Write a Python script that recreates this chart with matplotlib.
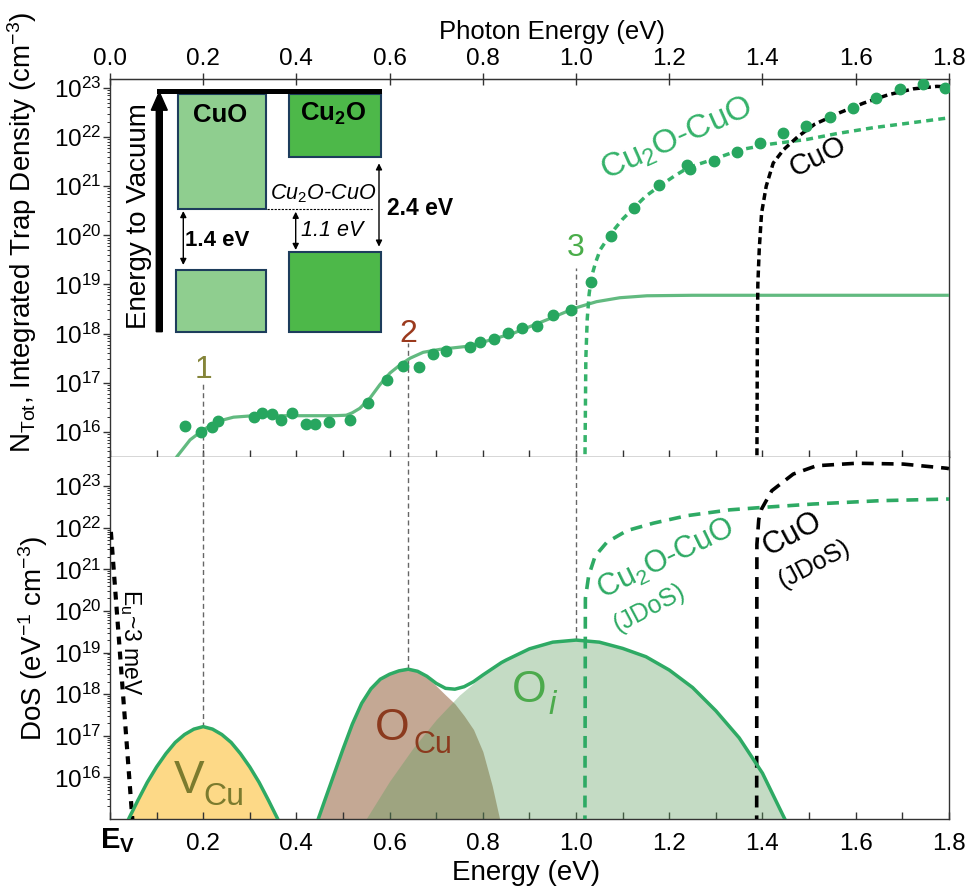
import numpy as np
import matplotlib
matplotlib.use("Agg")
import matplotlib.pyplot as plt
from matplotlib.patches import Rectangle, FancyArrow
from matplotlib.ticker import (LogLocator, NullFormatter, MultipleLocator,
                               FixedLocator, LogFormatterSciNotation)
import matplotlib.transforms as mtransforms

plt.rcParams['font.family'] = ['Liberation Sans', 'DejaVu Sans']
plt.rcParams['mathtext.fontset'] = 'custom'
plt.rcParams['mathtext.rm'] = 'Liberation Sans'
plt.rcParams['mathtext.it'] = 'Liberation Sans:italic'
plt.rcParams['mathtext.bf'] = 'Liberation Sans:bold'
plt.rcParams['mathtext.sf'] = 'Liberation Sans'

# ---------------- data (values are log10 of the quantity) ----------------
# top panel: measured integrated trap density
meas_E = [0.161, 0.195, 0.219, 0.232, 0.308, 0.327, 0.347, 0.367, 0.390, 0.420,
          0.440, 0.470, 0.514, 0.554, 0.594, 0.629, 0.664, 0.692, 0.721, 0.773,
          0.793, 0.824, 0.853, 0.883, 0.917, 0.951, 0.989, 1.032, 1.076, 1.124,
          1.179, 1.239, 1.245, 1.296, 1.345, 1.395, 1.443, 1.494, 1.544, 1.594,
          1.644, 1.695, 1.744, 1.792]
meas_logN = [16.12, 15.99, 16.11, 16.23, 16.31, 16.38, 16.37, 16.24, 16.39, 16.16,
             16.16, 16.20, 16.24, 16.58, 17.05, 17.34, 17.33, 17.58, 17.65, 17.72,
             17.83, 17.89, 18.01, 18.12, 18.16, 18.38, 18.48, 19.06, 19.98, 20.56,
             21.03, 21.44, 21.34, 21.52, 21.70, 21.88, 22.08, 22.23, 22.41, 22.59,
             22.80, 22.97, 23.07, 23.00]
# top panel: integrated defect-DoS fit
fit_E = [0.13, 0.143, 0.172, 0.200, 0.229, 0.265, 0.308, 0.40, 0.48, 0.507, 0.52,
         0.536, 0.558, 0.579, 0.601, 0.622, 0.644, 0.672, 0.708, 0.765, 0.794,
         0.866, 0.937, 0.998, 1.044, 1.094, 1.152, 1.25, 1.8]
fit_logN = [15.25, 15.49, 15.84, 16.04, 16.21, 16.30, 16.33, 16.33, 16.33, 16.34, 16.39,
            16.48, 16.69, 16.96, 17.20, 17.36, 17.50, 17.62, 17.68, 17.74, 17.81,
            18.01, 18.28, 18.52, 18.65, 18.73, 18.77, 18.78, 18.78]
# top panel: integrated JDoS, Cu2O-CuO heterojunction
int_het_E = [1.019, 1.021, 1.024, 1.028, 1.033, 1.042, 1.052, 1.076, 1.10, 1.124, 1.15,
             1.179, 1.21, 1.241, 1.296, 1.352, 1.42, 1.495, 1.56, 1.638, 1.72, 1.8]
int_het_logN = [15.3, 17.5, 18.3, 18.8, 19.15, 19.45, 19.71, 20.05, 20.33, 20.56, 20.8,
                21.0, 21.2, 21.38, 21.55, 21.74, 21.86, 21.95, 22.07, 22.19, 22.29, 22.39]
# top panel: integrated JDoS, CuO
int_cuo_E = [1.388, 1.389, 1.390, 1.393, 1.398, 1.408, 1.423, 1.445, 1.475, 1.512,
             1.567, 1.617, 1.670, 1.724, 1.774, 1.8]
int_cuo_logN = [15.3, 18.0, 19.0, 19.71, 20.45, 21.0, 21.47, 21.74, 22.0, 22.26,
                22.5, 22.69, 22.86, 22.98, 23.03, 23.02]

# bottom panel: defect densities of states
vcu_E = [0.03, 0.04, 0.06, 0.08, 0.10, 0.12, 0.14, 0.16, 0.18, 0.20,
         0.22, 0.24, 0.26, 0.28, 0.30, 0.32, 0.34, 0.36, 0.37]
vcu_logD = [14.71, 15.00, 15.45, 15.88, 16.25, 16.57, 16.84, 17.03, 17.16, 17.22,
            17.16, 17.03, 16.84, 16.57, 16.25, 15.88, 15.45, 15.00, 14.71]
ocu_E = [0.44, 0.46, 0.48, 0.50, 0.52, 0.54, 0.56, 0.58, 0.60, 0.62, 0.64,
         0.66, 0.68, 0.70, 0.72, 0.74, 0.76, 0.78, 0.80, 0.82, 0.84]
ocu_logD = [14.78, 15.42, 16.05, 16.68, 17.28, 17.78, 18.13, 18.36, 18.48, 18.56, 18.60,
            18.54, 18.41, 18.20, 17.98, 17.77, 17.48, 17.15, 16.62, 15.80, 14.80]
oi_E = [0.50, 0.52, 0.55, 0.60, 0.65, 0.70, 0.75, 0.80, 0.85, 0.90, 0.95, 1.00,
        1.05, 1.10, 1.15, 1.20, 1.25, 1.30, 1.35, 1.40, 1.45, 1.50]
oi_logD = [14.00, 14.42, 15.01, 15.91, 16.70, 17.39, 17.98, 18.45, 18.82, 19.09, 19.25, 19.30,
           19.25, 19.10, 18.90, 18.58, 18.16, 17.60, 16.95, 16.10, 14.95, 13.90]
# total (O_Cu + O_i) envelope
tot_E = [0.44, 0.46, 0.48, 0.50, 0.52, 0.54, 0.56, 0.58, 0.60, 0.62, 0.64, 0.66, 0.68,
         0.70, 0.72, 0.74, 0.76, 0.78, 0.80, 0.82, 0.84, 0.85, 0.90, 0.95, 1.00,
         1.05, 1.10, 1.15, 1.20, 1.25, 1.30, 1.35, 1.40, 1.45, 1.50]
tot_logD = [14.78, 15.42, 16.05, 16.68, 17.28, 17.78, 18.13, 18.36, 18.48, 18.56, 18.60,
            18.55, 18.43, 18.26, 18.14, 18.12, 18.18, 18.30, 18.46, 18.61, 18.76, 18.82,
            19.09, 19.25, 19.30, 19.25, 19.10, 18.90, 18.58, 18.16, 17.60, 16.95, 16.10,
            14.95, 13.90]
# bottom panel: JDoS curves and Urbach tail
jdos_het_E = [1.019, 1.020, 1.027, 1.041, 1.066, 1.109, 1.166, 1.238, 1.330, 1.402,
              1.509, 1.652, 1.8]
jdos_het_logD = [14.8, 20.3, 20.84, 21.32, 21.65, 21.93, 22.11, 22.29, 22.43, 22.49,
                 22.57, 22.65, 22.69]
jdos_cuo_E = [1.3875, 1.388, 1.392, 1.398, 1.420, 1.466, 1.516, 1.602, 1.702, 1.795, 1.8]
jdos_cuo_logD = [14.8, 21.6, 22.2, 22.45, 22.89, 23.29, 23.49, 23.55, 23.53, 23.43, 23.42]
urbach_E = [0.002, 0.05]
urbach_logD = [21.9, 14.7]

level_E = [0.20, 0.64, 1.00]
level_labels = ['1', '2', '3']
energy_ticks = [0.0, 0.2, 0.4, 0.6, 0.8, 1.0, 1.2, 1.4, 1.6, 1.8]
top_ticklabels = ['0.0', '0.2', '0.4', '0.6', '0.8', '1.0', '1.2', '1.4', '1.6', '1.8']
bottom_ticklabels = ['', '0.2', '0.4', '0.6', '0.8', '1.0', '1.2', '1.4', '1.6', '1.8']
decade_ticks = [1e16, 1e17, 1e18, 1e19, 1e20, 1e21, 1e22, 1e23]


def dex(v):
    return np.power(10.0, np.asarray(v, dtype=float))


# ---------------- colours ----------------
GREEN = '#2eaa64'
GREEN_DOT = '#27a65f'
GREEN_FIT = '#62ba80'
GREEN_LIGHT_DASH = '#35b26a'
C1 = '#85853a'
C2 = '#9b3a1e'
C3 = '#4aad4a'
SPINE = '#333333'

fig = plt.figure(figsize=(9.68, 8.88), dpi=100)
L, W = 0.1136, 0.8667
ax1 = fig.add_axes([L, 0.48536, W, 0.42568])
ax2 = fig.add_axes([L, 0.0777, W, 0.40766])

y1lim = (10 ** 15.49, 10 ** 23.18)
y2lim = (1e15, 10 ** 23.7)

for ax, yl in ((ax1, y1lim), (ax2, y2lim)):
    ax.set_yscale('log')
    ax.set_xlim(0, 1.8)
    ax.set_ylim(*yl)
    for s in ax.spines.values():
        s.set_linewidth(1.0)
        s.set_color(SPINE)
    ax.yaxis.set_major_locator(FixedLocator(decade_ticks))
    ax.yaxis.set_major_formatter(LogFormatterSciNotation())
    ax.yaxis.set_minor_locator(LogLocator(base=10, subs=np.arange(2, 10), numticks=40))
    ax.yaxis.set_minor_formatter(NullFormatter())
    ax.tick_params(axis='y', which='major', direction='out', length=5, width=1,
                   labelsize=17.5, pad=1, color=SPINE, right=False)
    ax.tick_params(axis='y', which='minor', direction='out', length=2.5, width=0.7,
                   color=SPINE, right=False)
    ax.xaxis.set_major_locator(FixedLocator(energy_ticks))
    ax.xaxis.set_minor_locator(MultipleLocator(0.1))
    ax.tick_params(axis='x', which='both', direction='in', length=5, width=1,
                   color=SPINE, top=False)

ax2.spines['top'].set_visible(False)
ax1.tick_params(axis='x', labelbottom=False)
ax2.set_xticklabels(bottom_ticklabels)
ax2.tick_params(axis='x', labelsize=17.5, pad=10)

# top secondary axis (photon energy)
sec = ax1.secondary_xaxis('top')
sec.set_xticks(energy_ticks)
sec.set_xticklabels(top_ticklabels)
sec.tick_params(direction='inout', length=9, width=1, labelsize=17.5, pad=2, color=SPINE)
sec.spines['top'].set_color(SPINE)
sec.set_xlabel('Photon Energy (eV)', fontsize=18.5)
sec.xaxis.set_label_coords(0.527, 1.107, transform=ax1.transAxes)

ax2.set_xlabel('Energy (eV)', fontsize=20)
ax2.xaxis.set_label_coords(0.496, -0.112)
ax1.set_ylabel(r'N$_{\mathrm{Tot}}$, Integrated Trap Density (cm$^{-3}$)', fontsize=20)
ax1.yaxis.set_label_coords(-0.085, 0.595)
ax2.set_ylabel(r'DoS (eV$^{-1}$ cm$^{-3}$)', fontsize=20)
ax2.yaxis.set_label_coords(-0.071, 0.5)

# E_V label at 0
trans_b = mtransforms.blended_transform_factory(ax2.transData, ax2.transAxes)
ax2.text(-0.0215, -0.081, r'$\mathbf{E}_\mathbf{V}$', transform=trans_b,
         fontsize=21, ha='left', va='baseline')

# ---------------- top panel ----------------
ax1.plot(fit_E, dex(fit_logN), color=GREEN_FIT, lw=2.3, zorder=3)
ax1.plot(int_het_E, dex(int_het_logN), color=GREEN_LIGHT_DASH, lw=2.5,
         dashes=(2.0, 1.5), zorder=3)
ax1.plot(int_cuo_E, dex(int_cuo_logN), color='black', lw=2.5,
         dashes=(2.0, 1.2), zorder=3)
ax1.plot(meas_E, dex(meas_logN), 'o', ms=7.5, color=GREEN_DOT, mec=GREEN_DOT, zorder=4)

top_line_ends = [10 ** 17.0, 10 ** 17.8, 10 ** 19.34]
top_label_y = [10 ** 17.26, 10 ** 18.0, 10 ** 19.75]
for e, yend, ly, lab, c in zip(level_E, top_line_ends, top_label_y, level_labels, [C1, C2, C3]):
    ax1.plot([e, e], [y1lim[0], yend], color='#666666', lw=1.0, dashes=(3.6, 2.5), zorder=2)
    ax1.text(e, ly, lab, color=c, fontsize=23, ha='center', va='center')

ax1.text(1.216, 10 ** 21.95, r'Cu$_2$O-CuO', color=GREEN_LIGHT_DASH, fontsize=24,
         rotation=24, ha='center', va='center', rotation_mode='anchor')
ax1.text(1.518, 10 ** 21.59, 'CuO', color='black', fontsize=21,
         rotation=26, ha='center', va='center', rotation_mode='anchor')

# ---------------- bottom panel ----------------
floor = 1e13
ax2.fill_between(vcu_E, dex(vcu_logD), floor, color='#fdd987', lw=0, zorder=1)
ax2.plot(vcu_E, dex(vcu_logD), color=GREEN, lw=2.5, zorder=4)
ax2.fill_between(ocu_E, dex(ocu_logD), floor, color='#c4a894', lw=0, zorder=1)
ax2.fill_between(oi_E, dex(oi_logD), floor, color='#5f9e5f', alpha=0.37, lw=0, zorder=2)
ax2.plot(tot_E, dex(tot_logD), color=GREEN, lw=2.5, zorder=4)

ax2.plot(jdos_het_E, dex(jdos_het_logD), color=GREEN, lw=2.6, dashes=(3.3, 2.2), zorder=3)
ax2.plot(jdos_cuo_E, dex(jdos_cuo_logD), color='black', lw=2.6, dashes=(3.3, 2.2), zorder=3)
ax2.plot(urbach_E, dex(urbach_logD), color='black', lw=3.0, dashes=(1.9, 1.7), zorder=3)

peaks = [max(vcu_logD), max(ocu_logD), max(oi_logD)]
for e, p in zip(level_E, peaks):
    ax2.plot([e, e], [dex(p), y2lim[1]], color='#666666', lw=1.0, dashes=(3.6, 2.5), zorder=2)

# defect labels
ax2.text(0.137, 10 ** 15.63, 'V', color='#7b7b2e', fontsize=33, ha='left', va='baseline', zorder=5)
ax2.text(0.200, 10 ** 15.33, 'Cu', color='#7b7b2e', fontsize=23, ha='left', va='baseline', zorder=5)
ax2.text(0.568, 10 ** 16.90, 'O', color='#8b3a1e', fontsize=32, ha='left', va='baseline', zorder=5)
ax2.text(0.652, 10 ** 16.59, 'Cu', color='#8b3a1e', fontsize=22, ha='left', va='baseline', zorder=5)
ax2.text(0.862, 10 ** 17.80, 'O', color='#4caa4c', fontsize=32, ha='left', va='baseline', zorder=5)
ax2.text(0.940, 10 ** 17.52, 'i', color='#4caa4c', fontsize=24, style='italic',
         ha='left', va='baseline', zorder=5)

ax2.text(0.043, 10 ** 19.25, r'E$_\mathrm{u}$~3 meV', color='black', fontsize=16.5,
         rotation=270, ha='center', va='center')

ax2.text(1.194, 10 ** 21.24, r'Cu$_2$O-CuO', color=GREEN, fontsize=22, rotation=26,
         ha='center', va='center', rotation_mode='anchor')
ax2.text(1.157, 10 ** 20.06, '(JDoS)', color=GREEN, fontsize=18, rotation=28,
         ha='center', va='center', rotation_mode='anchor')
ax2.text(1.464, 10 ** 21.85, 'CuO', color='black', fontsize=22, rotation=28,
         ha='center', va='center', rotation_mode='anchor')
ax2.text(1.511, 10 ** 21.12, '(JDoS)', color='black', fontsize=18, rotation=28,
         ha='center', va='center', rotation_mode='anchor')

# ---------------- band-diagram inset (pixel overlay) ----------------
ov = fig.add_axes([0, 0, 1, 1], zorder=10)
ov.set_xlim(0, 968)
ov.set_ylim(888, 0)
ov.axis('off')

EDGE = '#1d3d5c'
LIGHT = '#8fce8f'
DARK = '#4db849'
ov.add_patch(Rectangle((178.3, 94), 266 - 178.3, 209 - 94, facecolor=LIGHT, edgecolor=EDGE, lw=1.5))
ov.add_patch(Rectangle((289.3, 94), 380.7 - 289.3, 156.7 - 94, facecolor=DARK, edgecolor=EDGE, lw=1.5))
ov.add_patch(Rectangle((176, 270), 265.7 - 176, 332.3 - 270, facecolor=LIGHT, edgecolor=EDGE, lw=1.5))
ov.add_patch(Rectangle((289.3, 251.7), 381 - 289.3, 332.3 - 251.7, facecolor=DARK, edgecolor=EDGE, lw=1.5))
ov.add_patch(Rectangle((156.7, 89), 225, 5.3, facecolor='black', edgecolor='none'))
ov.add_patch(FancyArrow(159.3, 331.7, 0, -239.5, width=6, head_width=16, head_length=18,
                        length_includes_head=True, color='black'))
ov.plot([266.7, 373.3], [209, 209], color='black', lw=0.8, dashes=(2, 1.2))

arrow_kw = dict(arrowstyle='<|-|>', color='black', lw=1.0, mutation_scale=9, shrinkA=0, shrinkB=0)
ov.annotate('', xy=(183.3, 211), xytext=(183.3, 265), arrowprops=arrow_kw)
ov.annotate('', xy=(295.7, 211.7), xytext=(295.7, 250), arrowprops=arrow_kw)
ov.annotate('', xy=(379, 163.3), xytext=(379, 246.7), arrowprops=arrow_kw)

ov.text(220, 114.5, 'CuO', fontsize=18.5, fontweight='bold', ha='center', va='center')
ov.text(333, 114, r'Cu$_\mathbf{2}$O', fontsize=18.5, fontweight='bold', ha='center', va='center')
ov.text(323, 194, r'Cu$_\mathit{2}$O-CuO', fontsize=15.5, style='italic', ha='center', va='center')
ov.text(217.5, 240, '1.4 eV', fontsize=16, fontweight='bold', ha='center', va='center')
ov.text(332.5, 230.5, '1.1 eV', fontsize=15.5, style='italic', ha='center', va='center')
ov.text(420, 208, '2.4 eV', fontsize=16.5, fontweight='bold', ha='center', va='center')
ov.text(139, 215.8, 'Energy to Vacuum', fontsize=20, rotation=90, ha='center', va='center')

fig.savefig('out.png', dpi=100)
